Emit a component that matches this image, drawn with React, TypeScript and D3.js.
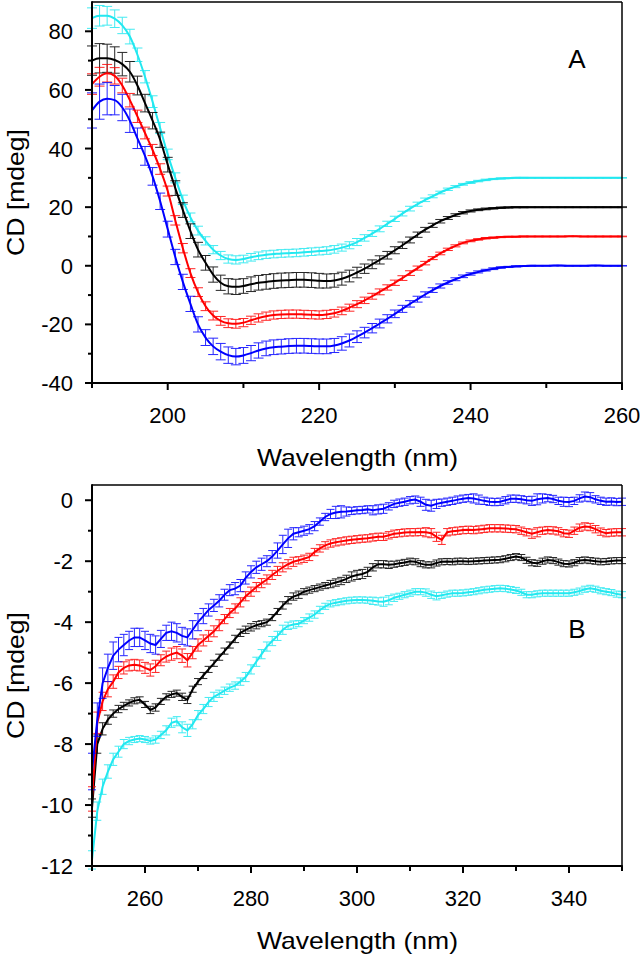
import React from 'react';
import * as d3 from 'd3';

// ---------- Panel A data (190..260 nm, 1 nm step) ----------
const wavelengthsA = d3.range(190, 261);

const cyanA = [84.5, 85.3, 85.3, 84.3, 82, 78.2, 72, 64.5, 56, 47,
  38, 30, 22.5, 16.5, 12, 8.5, 5.5, 3.5, 2.3, 2,
  2.3, 2.9, 3.4, 3.8, 4, 4.2, 4.3, 4.4, 4.6, 4.8,
  5, 5.2, 5.6, 6.2, 7, 8.1, 9.5, 11, 12.6, 14.3,
  16, 17.8, 19.5, 21, 22.5, 23.7, 25, 26.1, 27, 27.8,
  28.4, 28.9, 29.3, 29.6, 29.8, 29.9, 30, 30, 30, 30,
  30, 30, 30, 30, 30, 30, 30, 30, 30, 30, 30];
const blackA = [70, 70.8, 70.8, 70.2, 68.8, 66.2, 61.5, 55.5, 49.5, 43,
  34.5, 26.5, 19, 11.8, 5.5, 1, -3, -5.8, -7, -7.2,
  -6.9, -6.3, -5.8, -5.5, -5.2, -5, -4.9, -4.8, -4.8, -4.9,
  -5.1, -5.2, -5, -4.4, -3.5, -2.3, -1, 0.5, 2, 3.6,
  5.3, 7, 8.8, 10.6, 12.3, 13.8, 15.2, 16.3, 17.3, 18.1,
  18.7, 19.1, 19.4, 19.6, 19.8, 19.9, 20, 20, 20, 20,
  20, 20, 20, 20, 20, 20, 20, 20, 20, 20, 20];
const redA = [62, 64.5, 65.7, 64.8, 61.5, 56.5, 51, 45.3, 39.5, 33,
  25.5, 15.5, 6, -2.5, -9, -13.8, -17, -18.8, -19.6, -19.8,
  -19.4, -18.6, -17.8, -17.2, -16.8, -16.6, -16.5, -16.5, -16.6, -16.7,
  -16.8, -16.6, -16.2, -15.4, -14.3, -13.1, -11.8, -10.4, -8.9, -7.4,
  -5.8, -4.2, -2.5, -0.8, 0.9, 2.6, 4.2, 5.6, 6.8, 7.8,
  8.5, 9, 9.4, 9.6, 9.8, 9.9, 9.9, 10, 10, 10,
  10, 10, 10, 10.05, 10.05, 10, 10, 10, 10, 10, 10];
const blueA = [53, 56, 57, 56.5, 54, 49.5, 43.5, 37.5, 30.5, 22,
  12.5, 3, -5.5, -13, -20, -24.5, -27.5, -29.3, -30.5, -31,
  -30.6, -29.8, -28.9, -28.2, -27.8, -27.6, -27.4, -27.3, -27.3, -27.4,
  -27.5, -27.5, -27.2, -26.5, -25.5, -24.2, -22.8, -21.3, -19.7, -18.1,
  -16.4, -14.7, -13, -11.4, -9.8, -8.3, -6.9, -5.7, -4.6, -3.6,
  -2.8, -2.1, -1.5, -1, -0.6, -0.4, -0.2, -0.1, 0, 0,
  0, 0.05, 0.05, 0, 0, 0, 0.05, 0.05, 0, 0, 0];

const errCyanA = [3.5, 3.5, 3.2, 3, 2.8, 2.5, 2.3, 2.1, 2, 1.9,
  1.8, 1.7, 1.6, 1.5, 1.5, 1.4, 1.4, 1.4, 1.4, 1.4,
  1.3, 1.3, 1.3, 1.3, 1.3, 1.3, 1.3, 1.3, 1.3, 1.3,
  1.3, 1.3, 1.3, 1.2, 1.2, 1.2, 1.1, 1, 1, 0.9,
  0.9, 0.8, 0.8, 0.7, 0.6, 0.5, 0.45, 0.4, 0.35, 0.3,
  0.3, 0.25, 0.25, 0.2, 0.2, 0.15, 0.15, 0.15, 0.1, 0.1,
  0.1, 0.1, 0.1, 0.1, 0.1, 0.1, 0.1, 0.1, 0.1, 0.1, 0.1];
const errBlackA = [5, 5, 4.8, 4.5, 4, 3.5, 3.2, 3, 2.8, 2.6,
  2.5, 2.5, 2.5, 2.5, 2.5, 2.5, 2.6, 2.6, 2.6, 2.6,
  2.5, 2.5, 2.5, 2.5, 2.5, 2.5, 2.5, 2.5, 2.5, 2.5,
  2.5, 2.4, 2.3, 2.2, 2, 1.8, 1.6, 1.5, 1.4, 1.3,
  1.2, 1.1, 1, 0.9, 0.8, 0.7, 0.6, 0.5, 0.45, 0.4,
  0.35, 0.3, 0.3, 0.25, 0.25, 0.2, 0.2, 0.2, 0.15, 0.15,
  0.15, 0.15, 0.15, 0.15, 0.15, 0.15, 0.15, 0.15, 0.15, 0.15, 0.15];
const errRedA = [3.5, 3.2, 3, 2.8, 2.5, 2.3, 2.1, 2, 1.9, 1.8,
  1.7, 1.6, 1.6, 1.5, 1.5, 1.5, 1.5, 1.5, 1.5, 1.5,
  1.4, 1.4, 1.4, 1.4, 1.4, 1.4, 1.4, 1.4, 1.4, 1.4,
  1.4, 1.4, 1.3, 1.3, 1.2, 1.2, 1.1, 1, 1, 0.9,
  0.9, 0.8, 0.8, 0.7, 0.6, 0.5, 0.45, 0.4, 0.35, 0.3,
  0.3, 0.25, 0.25, 0.2, 0.2, 0.15, 0.15, 0.15, 0.1, 0.1,
  0.1, 0.1, 0.1, 0.1, 0.1, 0.1, 0.1, 0.1, 0.1, 0.1, 0.1];
const errBlueA = [6, 6, 5.5, 5, 4.5, 4, 3.5, 3.2, 3, 2.8,
  2.7, 2.6, 2.6, 2.6, 2.6, 2.7, 2.8, 2.8, 2.8, 2.8,
  2.7, 2.6, 2.6, 2.5, 2.5, 2.5, 2.5, 2.5, 2.5, 2.5,
  2.5, 2.5, 2.4, 2.3, 2.2, 2, 1.8, 1.6, 1.5, 1.4,
  1.3, 1.2, 1.1, 1, 0.9, 0.8, 0.7, 0.6, 0.5, 0.45,
  0.4, 0.35, 0.3, 0.3, 0.25, 0.2, 0.2, 0.15, 0.15, 0.1,
  0.1, 0.1, 0.1, 0.1, 0.1, 0.1, 0.1, 0.1, 0.1, 0.1, 0.1];

// ---------- Panel B data (250..350 nm, 1 nm step) ----------
const wavelengthsB = d3.range(250, 351);

const cyanB = [-11.8, -10.2, -9.4, -8.9, -8.5, -8.25, -8.0, -7.9, -7.85, -7.82,
  -7.85, -7.9, -7.85, -7.7, -7.55, -7.3, -7.25, -7.45, -7.55, -7.35,
  -7.05, -6.85, -6.62, -6.45, -6.35, -6.25, -6.15, -6.08, -5.95, -5.8,
  -5.55, -5.3, -5.05, -4.8, -4.62, -4.45, -4.25, -4.12, -4.08, -4.05,
  -3.95, -3.85, -3.75, -3.6, -3.48, -3.4, -3.36, -3.33, -3.3, -3.28,
  -3.27, -3.27, -3.28, -3.3, -3.32, -3.33, -3.28, -3.2, -3.15, -3.1,
  -3.05, -3.0, -3.0, -3.03, -3.1, -3.15, -3.12, -3.08, -3.05, -3.05,
  -3.04, -3.02, -3.0, -2.97, -2.94, -2.92, -2.9, -2.89, -2.9, -2.93,
  -2.96, -3.02, -3.1, -3.1, -3.07, -3.05, -3.05, -3.05, -3.05, -3.05,
  -3.05, -3.02, -2.98, -2.92, -2.89, -2.92, -2.97, -3.0, -3.03, -3.08,
  -3.1];
const blackB = [-10.1, -8.0, -7.5, -7.2, -7.0, -6.85, -6.75, -6.65, -6.58, -6.55,
  -6.7, -6.88, -6.8, -6.6, -6.45, -6.37, -6.33, -6.45, -6.55, -6.2,
  -5.95, -5.75, -5.55, -5.35, -5.15, -4.95, -4.75, -4.55, -4.35, -4.25,
  -4.17, -4.1, -4.05, -4.0, -3.85, -3.65, -3.45, -3.28, -3.16, -3.1,
  -3.0, -2.95, -2.9, -2.85, -2.8, -2.75, -2.7, -2.65, -2.58, -2.5,
  -2.45, -2.42, -2.35, -2.2, -2.1, -2.1, -2.12, -2.1, -2.07, -2.04,
  -2.0, -2.02, -2.08, -2.12, -2.12, -2.06, -2.02, -2.01, -2.02, -2.0,
  -2.0, -2.01, -2.0, -1.99, -1.98, -1.97, -1.96, -1.95, -1.92, -1.88,
  -1.85, -1.88, -1.97, -2.05, -2.07, -2.0, -1.96, -1.98, -2.03, -2.08,
  -2.09, -2.05, -1.98, -1.96, -1.98, -2.0, -2.02, -2.01, -1.99, -1.98,
  -1.98];
const redB = [-9.8, -7.3, -6.6, -6.2, -5.95, -5.65, -5.5, -5.42, -5.4, -5.42,
  -5.5, -5.57, -5.45, -5.25, -5.13, -5.05, -5.0, -5.1, -5.25, -5.0,
  -4.75, -4.6, -4.45, -4.3, -4.1, -3.9, -3.7, -3.55, -3.35, -3.15,
  -3.0, -2.85, -2.72, -2.6, -2.45, -2.32, -2.2, -2.1, -2.02, -1.97,
  -1.92, -1.86, -1.7, -1.58, -1.48, -1.42, -1.38, -1.35, -1.32, -1.3,
  -1.28, -1.26, -1.25, -1.22, -1.2, -1.2, -1.15, -1.1, -1.08, -1.06,
  -1.05, -1.05, -1.04, -1.05, -1.08, -1.2, -1.3, -1.05, -1.02, -1.0,
  -0.98, -0.97, -0.98, -0.96, -0.94, -0.92, -0.92, -0.92, -0.93, -0.94,
  -0.95, -1.0, -1.05, -1.1, -1.05, -1.0, -0.98, -0.99, -1.02, -1.08,
  -1.1, -1.0, -0.9, -0.86, -0.88, -0.95, -1.03, -1.08, -1.06, -1.05,
  -1.05];
const blueB = [-8.9, -7.2, -6.0, -5.5, -5.1, -4.9, -4.75, -4.6, -4.5, -4.5,
  -4.6, -4.7, -4.75, -4.55, -4.35, -4.3, -4.35, -4.45, -4.5, -4.25,
  -4.0, -3.8, -3.6, -3.45, -3.3, -3.1, -2.95, -2.9, -2.8, -2.55,
  -2.35, -2.2, -2.1, -2.0, -1.85, -1.65, -1.45, -1.25, -1.1, -1.05,
  -1.0, -0.95, -0.85, -0.7, -0.55, -0.45, -0.4, -0.38, -0.37, -0.35,
  -0.33, -0.32, -0.3, -0.33, -0.3, -0.28, -0.2, -0.12, -0.08, -0.05,
  0.0, 0.02, -0.05, -0.15, -0.18, -0.12, -0.08, -0.05, -0.02, 0.02,
  0.05, 0.07, 0.06, 0.02, -0.02, -0.05, -0.06, -0.05, 0.0, 0.05,
  0.05, 0.03, 0.0, -0.02, 0.03, 0.06, 0.07, 0.04, -0.02, -0.05,
  -0.06, -0.02, 0.06, 0.12, 0.1, 0.03, -0.02, -0.05, -0.04, -0.06,
  -0.05];

const errCyanB = [0.3, 0.3, 0.25, 0.22, 0.2, 0.18, 0.15, 0.12, 0.1, 0.1,
  0.1, 0.1, 0.12, 0.12, 0.15, 0.15, 0.15, 0.18, 0.2, 0.15,
  0.15, 0.15, 0.15, 0.15, 0.12, 0.12, 0.12, 0.12, 0.12, 0.15,
  0.15, 0.15, 0.15, 0.15, 0.15, 0.15, 0.15, 0.12, 0.12, 0.1,
  0.1, 0.12, 0.12, 0.12, 0.1, 0.1, 0.1, 0.1, 0.1, 0.1,
  0.1, 0.1, 0.1, 0.12, 0.12, 0.15, 0.15, 0.12, 0.1, 0.1,
  0.1, 0.1, 0.1, 0.12, 0.12, 0.12, 0.1, 0.1, 0.1, 0.1,
  0.1, 0.1, 0.1, 0.1, 0.1, 0.1, 0.1, 0.1, 0.1, 0.1,
  0.1, 0.1, 0.1, 0.1, 0.1, 0.1, 0.1, 0.1, 0.1, 0.1,
  0.1, 0.1, 0.1, 0.1, 0.1, 0.1, 0.1, 0.1, 0.1, 0.1,
  0.1];
const errBlackB = [0.3, 0.3, 0.2, 0.15, 0.12, 0.12, 0.12, 0.1, 0.1, 0.1,
  0.1, 0.12, 0.12, 0.1, 0.1, 0.1, 0.1, 0.12, 0.12, 0.1,
  0.1, 0.1, 0.1, 0.1, 0.1, 0.1, 0.1, 0.12, 0.12, 0.12,
  0.12, 0.12, 0.1, 0.1, 0.1, 0.1, 0.12, 0.12, 0.12, 0.12,
  0.1, 0.1, 0.1, 0.1, 0.1, 0.12, 0.12, 0.12, 0.12, 0.15,
  0.15, 0.15, 0.15, 0.12, 0.12, 0.12, 0.12, 0.1, 0.1, 0.1,
  0.1, 0.1, 0.1, 0.1, 0.1, 0.1, 0.1, 0.1, 0.1, 0.1,
  0.1, 0.1, 0.1, 0.1, 0.1, 0.1, 0.1, 0.1, 0.1, 0.1,
  0.1, 0.1, 0.1, 0.1, 0.1, 0.1, 0.1, 0.1, 0.1, 0.1,
  0.1, 0.1, 0.1, 0.1, 0.1, 0.1, 0.1, 0.1, 0.1, 0.1,
  0.1];
const errRedB = [0.4, 0.35, 0.3, 0.25, 0.22, 0.2, 0.2, 0.18, 0.18, 0.18,
  0.18, 0.2, 0.2, 0.18, 0.18, 0.2, 0.2, 0.22, 0.22, 0.2,
  0.2, 0.18, 0.18, 0.18, 0.18, 0.15, 0.15, 0.15, 0.15, 0.15,
  0.15, 0.15, 0.15, 0.15, 0.15, 0.15, 0.15, 0.15, 0.15, 0.12,
  0.12, 0.12, 0.12, 0.12, 0.12, 0.12, 0.12, 0.12, 0.12, 0.12,
  0.12, 0.12, 0.12, 0.12, 0.12, 0.12, 0.12, 0.12, 0.12, 0.12,
  0.12, 0.12, 0.12, 0.15, 0.15, 0.15, 0.15, 0.12, 0.12, 0.12,
  0.12, 0.12, 0.12, 0.12, 0.12, 0.12, 0.12, 0.12, 0.12, 0.12,
  0.12, 0.12, 0.12, 0.15, 0.15, 0.12, 0.12, 0.12, 0.12, 0.12,
  0.12, 0.12, 0.12, 0.12, 0.12, 0.12, 0.12, 0.12, 0.12, 0.12,
  0.12];
const errBlueB = [0.6, 0.55, 0.5, 0.45, 0.45, 0.4, 0.35, 0.3, 0.3, 0.3,
  0.3, 0.3, 0.3, 0.28, 0.25, 0.3, 0.3, 0.28, 0.28, 0.3,
  0.28, 0.25, 0.2, 0.2, 0.2, 0.18, 0.18, 0.2, 0.2, 0.2,
  0.2, 0.2, 0.2, 0.18, 0.2, 0.25, 0.3, 0.3, 0.2, 0.15,
  0.15, 0.15, 0.15, 0.12, 0.12, 0.15, 0.2, 0.2, 0.15, 0.12,
  0.12, 0.12, 0.12, 0.15, 0.15, 0.15, 0.12, 0.12, 0.12, 0.12,
  0.12, 0.12, 0.15, 0.18, 0.18, 0.15, 0.12, 0.12, 0.12, 0.12,
  0.12, 0.12, 0.15, 0.15, 0.12, 0.12, 0.12, 0.12, 0.12, 0.12,
  0.12, 0.12, 0.12, 0.15, 0.18, 0.15, 0.12, 0.12, 0.12, 0.15,
  0.15, 0.12, 0.12, 0.15, 0.15, 0.12, 0.12, 0.12, 0.12, 0.12,
  0.12];

// ---------- Axis ticks ----------
const xMajorA = [200, 220, 240, 260];
const xMinorA = [190, 210, 230, 250];
const yMajorA = [-40, -20, 0, 20, 40, 60, 80];
const yMinorA = [-30, -10, 10, 30, 50, 70];
const xMajorB = [260, 280, 300, 320, 340];
const xMinorB = [250, 270, 290, 310, 330, 350];
const yMajorB = [-12, -10, -8, -6, -4, -2, 0];
const yMinorB = [-11, -9, -7, -5, -3, -1];

const COLORS = { cyan: '#22e8f0', black: '#000000', red: '#ff0000', blue: '#0000ff' };
const FONT = '"Liberation Sans", Arial, Helvetica, sans-serif';

const X0 = 92;
const X1 = 622;

type Series = { color: string; values: number[]; errors: number[] };

function Panel(props: {
  top: number; bottom: number; xDomain: [number, number]; yDomain: [number, number];
  waves: number[]; series: Series[]; xMajor: number[]; xMinor: number[];
  yMajor: number[]; yMinor: number[]; letter: string; letterY: number;
  capW: number; smooth: boolean;
}) {
  const { top, bottom, xDomain, yDomain, waves, series, xMajor, xMinor, yMajor, yMinor, letter, letterY, capW, smooth } = props;
  const x = d3.scaleLinear().domain(xDomain).range([X0, X1]);
  const y = d3.scaleLinear().domain(yDomain).range([bottom, top]);
  const line = d3.line<number>()
    .x((_, i) => x(waves[i]))
    .y((d) => y(d))
    .curve(smooth ? d3.curveMonotoneX : d3.curveLinear);

  return (
    <g>
      {series.map((s, si) => (
        <g key={si}>
          <g stroke={s.color} strokeWidth={1} opacity={0.85}>
            {s.values.map((v, i) => {
              const e = s.errors[i];
              const cx = x(waves[i]);
              const yt = y(v + e);
              const yb = y(v - e);
              return (
                <g key={i}>
                  <line x1={cx} x2={cx} y1={yt} y2={yb} />
                  <line x1={cx - capW / 2} x2={cx + capW / 2} y1={yt} y2={yt} />
                  <line x1={cx - capW / 2} x2={cx + capW / 2} y1={yb} y2={yb} />
                </g>
              );
            })}
          </g>
          <path d={line(s.values) || ''} fill="none" stroke={s.color} strokeWidth={2} />
        </g>
      ))}
      {/* frame */}
      <line x1={X0} x2={X1} y1={top} y2={top} stroke="#000" strokeWidth={1.5} />
      <line x1={X1} x2={X1} y1={top} y2={bottom} stroke="#000" strokeWidth={1.5} />
      <line x1={X0} x2={X0} y1={top - 0.75} y2={bottom + 1} stroke="#000" strokeWidth={2} />
      <line x1={X0 - 1} x2={X1 + 0.75} y1={bottom} y2={bottom} stroke="#000" strokeWidth={2} />
      {/* y ticks */}
      {yMajor.map((t) => (
        <g key={'ym' + t}>
          <line x1={X0 - 7} x2={X0} y1={y(t)} y2={y(t)} stroke="#000" strokeWidth={2} />
          <text x={X0 - 19} y={y(t) + 8} textAnchor="end" fontSize={22} fontFamily={FONT}>{String(t)}</text>
        </g>
      ))}
      {yMinor.map((t) => (
        <line key={'yn' + t} x1={X0 - 4} x2={X0} y1={y(t)} y2={y(t)} stroke="#000" strokeWidth={2} />
      ))}
      {/* x ticks */}
      {xMajor.map((t) => (
        <g key={'xm' + t}>
          <line x1={x(t)} x2={x(t)} y1={bottom} y2={bottom + 7} stroke="#000" strokeWidth={2} />
          <text x={x(t)} y={bottom + 40} textAnchor="middle" fontSize={22} fontFamily={FONT}>{String(t)}</text>
        </g>
      ))}
      {xMinor.map((t) => (
        <line key={'xn' + t} x1={x(t)} x2={x(t)} y1={bottom} y2={bottom + 5} stroke="#000" strokeWidth={2} />
      ))}
      <text x={(X0 + X1) / 2 + 0.5} y={bottom + 83} textAnchor="middle" fontSize={24} fontFamily={FONT}
        textLength={201} lengthAdjust="spacingAndGlyphs">Wavelength (nm)</text>
      <text transform={`translate(24,${(top + bottom) / 2}) rotate(-90)`} textAnchor="middle" fontSize={24}
        fontFamily={FONT} textLength={127} lengthAdjust="spacingAndGlyphs">CD [mdeg]</text>
      <text x={577} y={letterY} textAnchor="middle" fontSize={26} fontFamily={FONT}>{letter}</text>
    </g>
  );
}

export default function App() {
  const seriesA: Series[] = [
    { color: COLORS.cyan, values: cyanA, errors: errCyanA },
    { color: COLORS.black, values: blackA, errors: errBlackA },
    { color: COLORS.red, values: redA, errors: errRedA },
    { color: COLORS.blue, values: blueA, errors: errBlueA },
  ];
  const seriesB: Series[] = [
    { color: COLORS.cyan, values: cyanB, errors: errCyanB },
    { color: COLORS.black, values: blackB, errors: errBlackB },
    { color: COLORS.red, values: redB, errors: errRedB },
    { color: COLORS.blue, values: blueB, errors: errBlueB },
  ];
  return (
    <svg width={641} height={956} style={{ position: 'absolute', left: 0, top: 0, background: '#fff' }}>
      <rect x={0} y={0} width={641} height={956} fill="#fff" />
      <Panel top={2} bottom={383} xDomain={[190, 260]} yDomain={[-40, 90]} waves={wavelengthsA}
        series={seriesA} xMajor={xMajorA} xMinor={xMinorA} yMajor={yMajorA} yMinor={yMinorA}
        letter="A" letterY={68} capW={10} smooth={true} />
      <Panel top={485} bottom={866} xDomain={[250, 350]} yDomain={[-12, 0.5]} waves={wavelengthsB}
        series={seriesB} xMajor={xMajorB} xMinor={xMinorB} yMajor={yMajorB} yMinor={yMinorB}
        letter="B" letterY={638} capW={8} smooth={false} />
    </svg>
  );
}
